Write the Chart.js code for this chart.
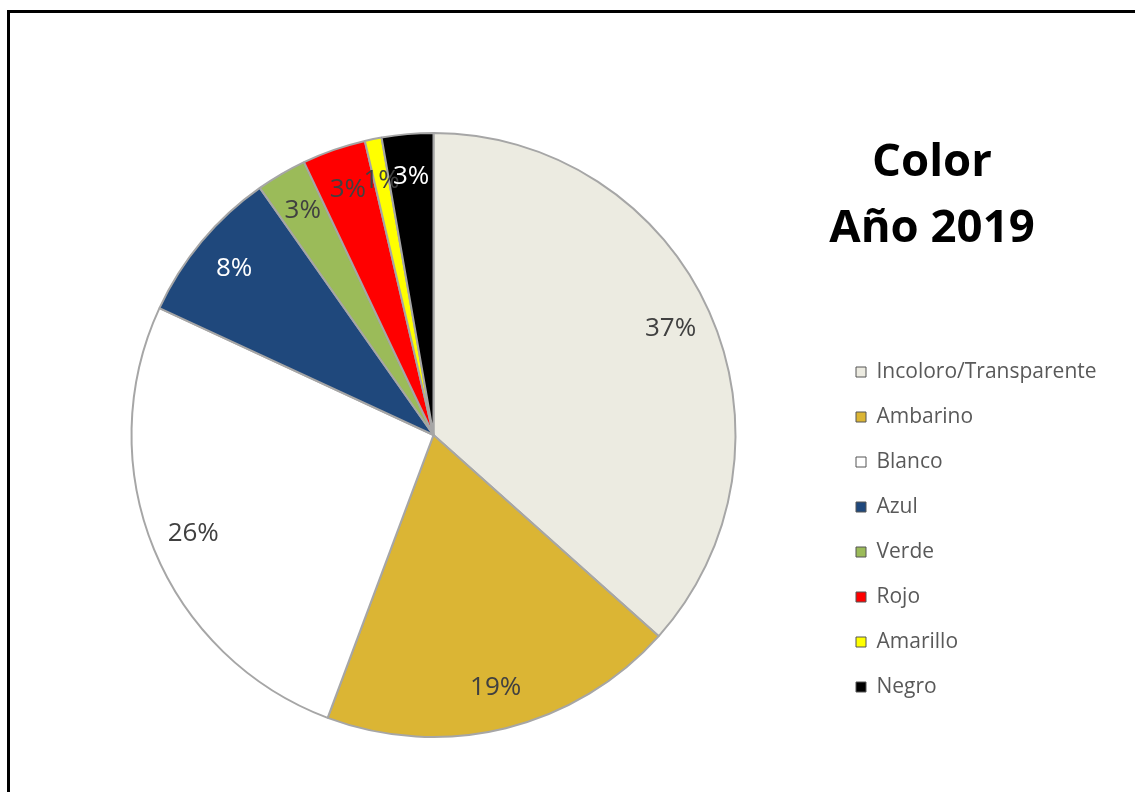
<!DOCTYPE html>
<html lang="es">
<head>
  <meta charset="UTF-8" />
  <title>Color Año 2019</title>
  <script src="https://cdn.jsdelivr.net/npm/chart.js"></script>
  <style>
    body {
      margin: 0;
      background: #ffffff;
      overflow: hidden;
    }
    #frame {
      position: absolute;
      left: 7px;
      top: 10px;
      width: 1128px;
      height: 782px;
      border-left: 3px solid #000;
      border-top: 3px solid #000;
    }
    #chart {
      position: absolute;
      left: 0;
      top: 0;
    }
    #title {
      position: absolute;
      left: 782px;
      top: 125px;
      width: 300px;
      text-align: center;
      font-family: "Open Sans", sans-serif;
      font-weight: bold;
      font-size: 45.5px;
      line-height: 66px;
      color: #000;
    }
  </style>
</head>
<body>
  <div id="frame"></div>
  <canvas id="chart" width="1135" height="792"></canvas>
  <div id="title">Color<br>Año 2019</div>

  <script>
    const categories = ["Incoloro/Transparente", "Ambarino", "Blanco", "Azul", "Verde", "Rojo", "Amarillo", "Negro"];
    const shares = [36.6, 19.1, 26.2, 8.35, 2.7, 3.4, 0.9, 2.75];
    const sliceColors = ["#ecebe1", "#dbb534", "#ffffff", "#1f487c", "#9bbb59", "#ff0000", "#ffff00", "#000000"];
    const labelColors = ["#404040", "#404040", "#404040", "#ffffff", "#404040", "#404040", "#404040", "#ffffff"];

    const legendFont = { family: "'Open Sans', sans-serif", size: 21 };
    const legendPad = 24;

    // work out legend width so the pie lands where it should
    const probe = document.createElement("canvas").getContext("2d");
    probe.font = legendFont.size + "px " + legendFont.family;
    const longest = Math.max(...categories.map(c => probe.measureText(c).width));
    const legendW = legendPad + 10 + legendFont.size / 2 + longest + 10;
    const legendLeft = 832;

    const pctLabels = {
      id: "pctLabels",
      afterDatasetsDraw(chart) {
        const ctx = chart.ctx;
        const meta = chart.getDatasetMeta(0);
        const data = chart.data.datasets[0].data;
        const total = data.reduce((a, b) => a + b, 0);
        ctx.save();
        ctx.font = "26px 'Open Sans', sans-serif";
        ctx.textAlign = "center";
        ctx.textBaseline = "middle";
        meta.data.forEach((arc, i) => {
          const p = arc.getProps(["x", "y", "startAngle", "endAngle", "outerRadius"], true);
          const mid = (p.startAngle + p.endAngle) / 2;
          const r = p.outerRadius * 0.86;
          ctx.fillStyle = labelColors[i];
          ctx.fillText(Math.round(data[i] / total * 100) + "%", p.x + Math.cos(mid) * r, p.y + Math.sin(mid) * r);
        });
        ctx.restore();
      }
    };

    new Chart(document.getElementById("chart"), {
      type: "pie",
      data: {
        labels: categories,
        datasets: [{
          data: shares,
          backgroundColor: sliceColors,
          borderColor: "#a6a6a6",
          borderWidth: 2,
          clip: false
        }]
      },
      options: {
        responsive: false,
        animation: false,
        radius: 302,
        layout: {
          padding: { left: 35, right: 1135 - legendLeft - legendW, top: 148.5, bottom: 70.5 }
        },
        plugins: {
          tooltip: { enabled: false },
          legend: {
            position: "right",
            align: "end",
            labels: {
              font: legendFont,
              color: "#595959",
              boxWidth: 10,
              boxHeight: 10,
              padding: legendPad,
              generateLabels(chart) {
                return chart.data.labels.map((label, i) => ({
                  text: label,
                  fillStyle: sliceColors[i],
                  strokeStyle: "#555555",
                  lineWidth: 1,
                  fontColor: "#595959",
                  index: i
                }));
              }
            }
          }
        }
      },
      plugins: [pctLabels]
    });
  </script>
</body>
</html>
